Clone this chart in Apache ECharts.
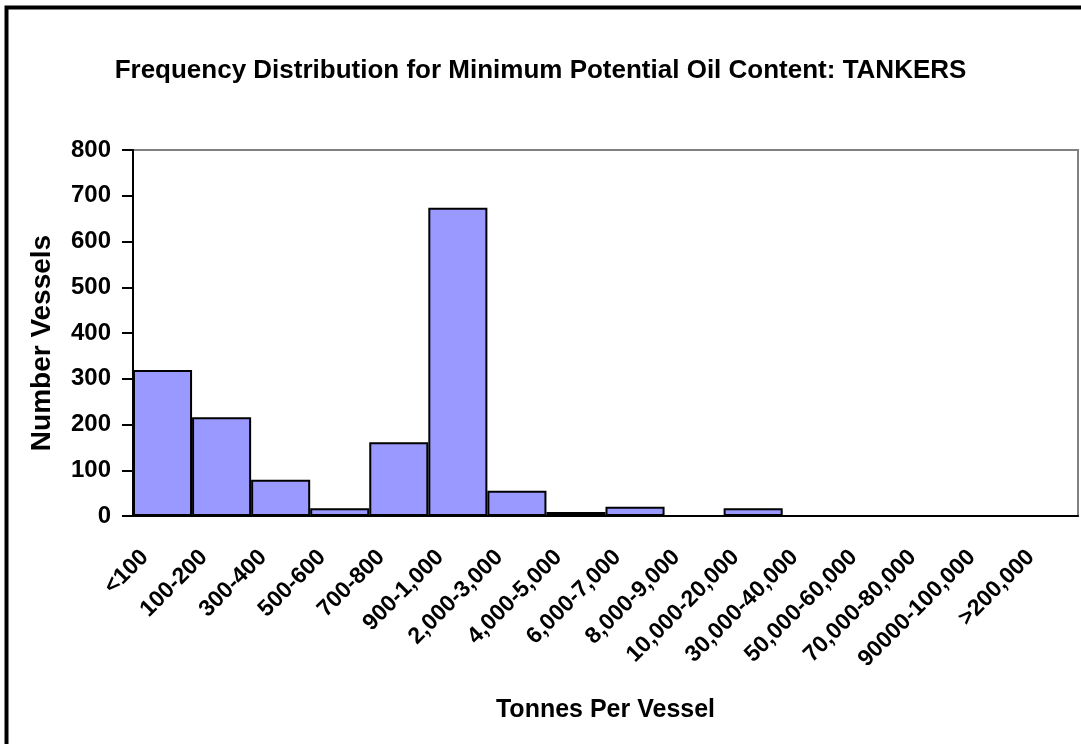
<!DOCTYPE html>
<html>
<head>
<meta charset="utf-8">
<script src="https://cdn.jsdelivr.net/npm/echarts@6/dist/echarts.min.js"></script>
<style>
  html, body { margin: 0; padding: 0; background: #fff; }
  #chart { width: 1081px; height: 744px; }
</style>
</head>
<body>
<div id="chart"></div>
<script>
// tonnage classes (x axis)
var categories = ['<100', '100-200', '300-400', '500-600', '700-800', '900-1,000',
    '2,000-3,000', '4,000-5,000', '6,000-7,000', '8,000-9,000', '10,000-20,000',
    '30,000-40,000', '50,000-60,000', '70,000-80,000', '90000-100,000', '>200,000'];
// number of vessels per class
var vessels = [319, 216, 79, 17, 161, 674, 55, 9, 20, 0, 17, 0, 0, 0, 0, 0];
var yTicks = { min: 0, max: 800, step: 100 };

var chart = echarts.init(document.getElementById('chart'));
var font = 'Liberation Sans, Arial, sans-serif';

var option = {
    backgroundColor: '#fff',
    animation: false,
    title: {
        text: 'Frequency Distribution for Minimum Potential Oil Content: TANKERS',
        left: 'center',
        top: 53,
        textStyle: { fontFamily: font, fontWeight: 'bold', fontSize: 26, color: '#000' }
    },
    graphic: [{
        type: 'rect',
        shape: { x: 6.5, y: 7.5, width: 1200, height: 900 },
        style: { fill: 'none', stroke: '#000', lineWidth: 4 },
        silent: true
    }],
    grid: {
        left: 133, right: 3, top: 150, bottom: 228,
        show: true, borderColor: '#808080', borderWidth: 2
    },
    xAxis: {
        type: 'category',
        data: categories,
        name: 'Tonnes Per Vessel',
        nameLocation: 'middle',
        nameGap: 182,
        nameTextStyle: { fontFamily: font, fontWeight: 'bold', fontSize: 25, color: '#000' },
        axisLine: { lineStyle: { color: '#000', width: 2 } },
        axisTick: { interval: 0, length: 8, lineStyle: { color: '#000', width: 2 } },
        axisLabel: {
            interval: 0,
            rotate: 45,
            margin: 20,
            padding: [0, 25, 0, 0],
            fontFamily: font, fontWeight: 'bold', fontSize: 23, color: '#000'
        }
    },
    yAxis: {
        type: 'value',
        min: yTicks.min,
        max: yTicks.max,
        interval: yTicks.step,
        name: 'Number Vessels',
        nameLocation: 'middle',
        nameGap: 77,
        nameTextStyle: {
            fontFamily: font, fontWeight: 'bold', fontSize: 28, color: '#000',
            padding: [0, 20, 0, 0]
        },
        axisLine: { show: true, lineStyle: { color: '#000', width: 2 } },
        axisTick: { show: true, length: 11, lineStyle: { color: '#000', width: 2 } },
        axisLabel: { margin: 22, fontFamily: font, fontWeight: 'bold', fontSize: 24, color: '#000' },
        splitLine: { show: false }
    },
    series: [{
        name: 'Number Vessels',
        type: 'bar',
        data: vessels,
        barCategoryGap: '0%',
        itemStyle: { color: '#9999FF', borderColor: '#000', borderWidth: 2 }
    }]
};

chart.setOption(option);
</script>
</body>
</html>
